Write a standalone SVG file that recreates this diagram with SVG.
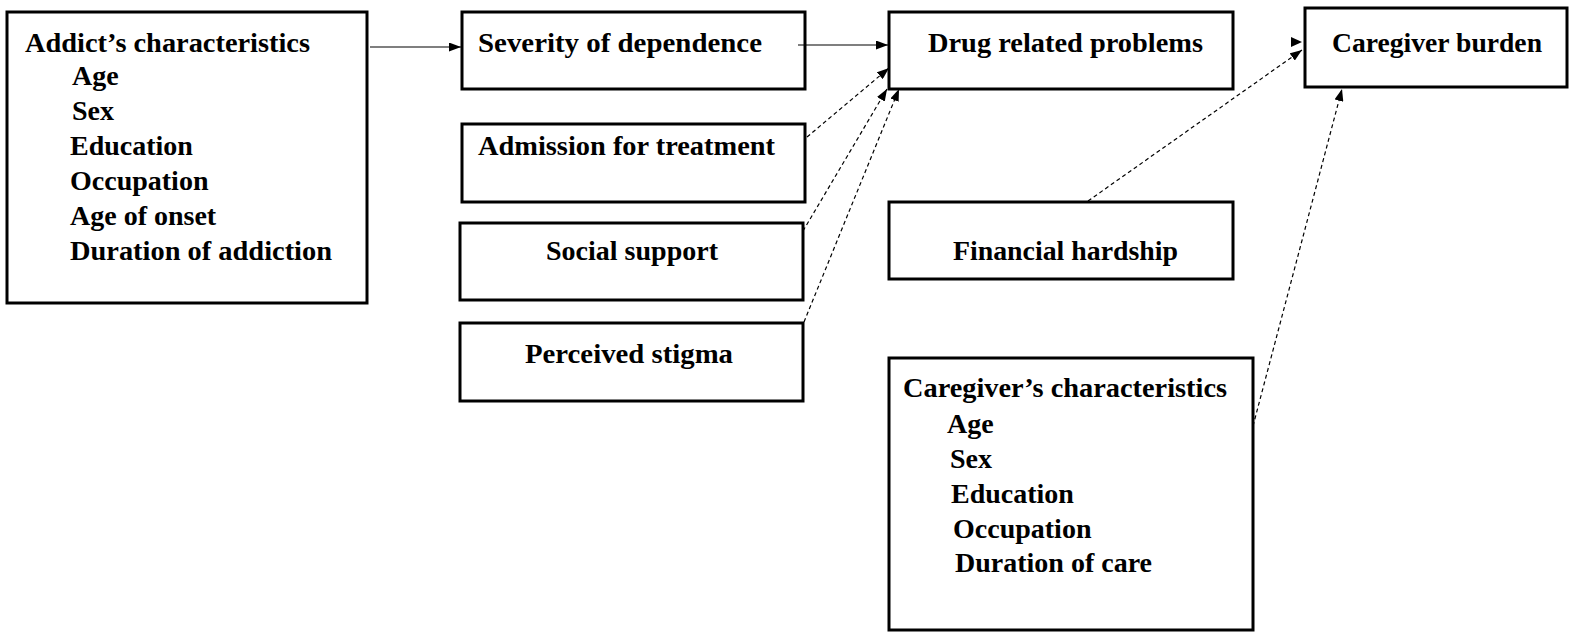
<svg xmlns="http://www.w3.org/2000/svg" width="1574" height="635" viewBox="0 0 1574 635">
  <style>
    .box { fill: #ffffff; stroke: #000000; stroke-width: 3; }
    .t { font-family: "Liberation Serif", "Times New Roman", serif; font-weight: bold; font-size: 28px; fill: #000000; }
    .solid { stroke: #000000; stroke-width: 1.2; fill: none; }
    .dash { stroke: #000000; stroke-width: 1.2; fill: none; stroke-dasharray: 4 3; }
  </style>
  <defs>
    <marker id="arr" markerUnits="userSpaceOnUse" markerWidth="12" markerHeight="9" refX="12" refY="4.5" orient="auto">
      <path d="M0,0 L12,4.5 L0,9 z" fill="#000000"/>
    </marker>
  </defs>
  <rect width="1574" height="635" fill="#ffffff"/>

  <g id="addict">
    <rect class="box" x="7" y="12" width="360" height="291"/>
    <text class="t" x="25" y="52" textLength="285" lengthAdjust="spacingAndGlyphs">Addict’s characteristics</text>
    <text class="t" x="72" y="85">Age</text>
    <text class="t" x="72" y="120">Sex</text>
    <text class="t" x="70" y="155">Education</text>
    <text class="t" x="70" y="190">Occupation</text>
    <text class="t" x="70" y="225">Age of onset</text>
    <text class="t" x="70" y="260" textLength="262" lengthAdjust="spacingAndGlyphs">Duration of addiction</text>
  </g>

  <g id="severity">
    <rect class="box" x="462" y="12" width="343" height="77"/>
    <text class="t" x="478" y="52" textLength="284" lengthAdjust="spacingAndGlyphs">Severity of dependence</text>
  </g>

  <g id="admission">
    <rect class="box" x="462" y="124" width="343" height="78"/>
    <text class="t" x="478" y="155" textLength="297" lengthAdjust="spacingAndGlyphs">Admission for treatment</text>
  </g>

  <g id="social">
    <rect class="box" x="460" y="223" width="343" height="77"/>
    <text class="t" x="546" y="260" textLength="172" lengthAdjust="spacingAndGlyphs">Social support</text>
  </g>

  <g id="stigma">
    <rect class="box" x="460" y="323" width="343" height="78"/>
    <text class="t" x="525" y="363" textLength="208" lengthAdjust="spacingAndGlyphs">Perceived stigma</text>
  </g>

  <g id="drug">
    <rect class="box" x="889" y="12" width="344" height="77"/>
    <text class="t" x="928" y="52" textLength="275" lengthAdjust="spacingAndGlyphs">Drug related problems</text>
  </g>

  <g id="financial">
    <rect class="box" x="889" y="202" width="344" height="77"/>
    <text class="t" x="953" y="260" textLength="225" lengthAdjust="spacingAndGlyphs">Financial hardship</text>
  </g>

  <g id="burden">
    <rect class="box" x="1305" y="8" width="262" height="79"/>
    <text class="t" x="1332" y="52" textLength="210" lengthAdjust="spacingAndGlyphs">Caregiver burden</text>
  </g>

  <g id="caregiver">
    <rect class="box" x="889" y="358" width="364" height="272"/>
    <text class="t" x="903" y="397" textLength="324" lengthAdjust="spacingAndGlyphs">Caregiver’s characteristics</text>
    <text class="t" x="947" y="433">Age</text>
    <text class="t" x="950" y="468">Sex</text>
    <text class="t" x="951" y="503">Education</text>
    <text class="t" x="953" y="538">Occupation</text>
    <text class="t" x="955" y="572">Duration of care</text>
  </g>

  <g id="connectors">
    <line class="solid" x1="370" y1="47" x2="461" y2="47" marker-end="url(#arr)"/>
    <line class="solid" x1="798" y1="45" x2="888" y2="45" marker-end="url(#arr)"/>
    <line class="dash" x1="807" y1="137" x2="889" y2="68" marker-end="url(#arr)"/>
    <line class="dash" x1="803" y1="231" x2="887" y2="89" marker-end="url(#arr)"/>
    <line class="dash" x1="804" y1="322" x2="899" y2="89" marker-end="url(#arr)"/>
    <line class="dash" x1="1088" y1="201" x2="1302" y2="50" marker-end="url(#arr)"/>
    <line class="dash" x1="1253" y1="426" x2="1342" y2="89" marker-end="url(#arr)"/>
    <path d="M1291,37 L1302,42 L1291,47 z" fill="#000000"/>
  </g>
</svg>
